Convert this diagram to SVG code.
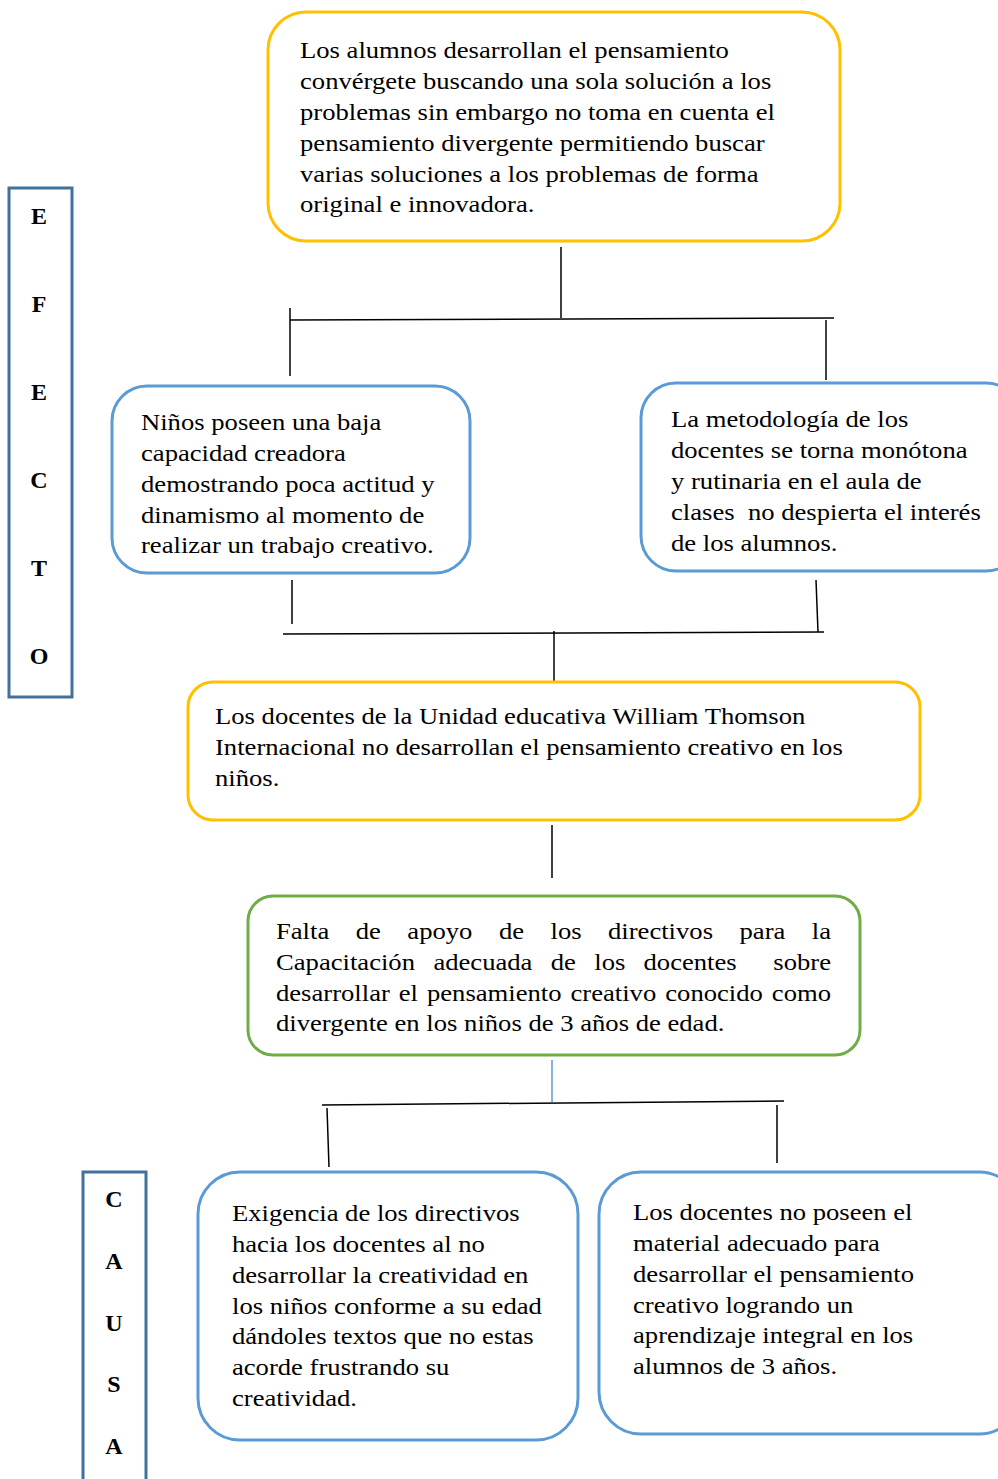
<svg xmlns="http://www.w3.org/2000/svg" width="998" height="1479" viewBox="0 0 998 1479">
<style>
.t{font-family:"Liberation Serif","Times New Roman",serif;font-size:24px;fill:#000}
.l{font-family:"Liberation Serif","Times New Roman",serif;font-size:24px;font-weight:bold;fill:#000;text-anchor:middle}
.y{fill:#fff;stroke:#FFC000;stroke-width:3}
.b{fill:#fff;stroke:#5B9BD5;stroke-width:3}
.g{fill:#fff;stroke:#70AD47;stroke-width:3}
.s{fill:#fff;stroke:#41719C;stroke-width:3}
.c{stroke:#000;stroke-width:1.5;fill:none}
</style>
<rect width="998" height="1479" fill="#fff"/>
<g id="efecto">
<rect class="s" x="9" y="188" width="63" height="509"/>
<text class="l" x="39" y="224">E</text>
<text class="l" x="39" y="312">F</text>
<text class="l" x="39" y="400">E</text>
<text class="l" x="39" y="488">C</text>
<text class="l" x="39" y="576">T</text>
<text class="l" x="39" y="664">O</text>
</g>
<g id="causa">
<rect class="s" x="83" y="1172" width="63" height="320"/>
<text class="l" x="114" y="1207">C</text>
<text class="l" x="114" y="1269">A</text>
<text class="l" x="114" y="1331">U</text>
<text class="l" x="114" y="1392">S</text>
<text class="l" x="114" y="1454">A</text>
</g>
<g id="connectors">
<line class="c" x1="561" y1="247" x2="561" y2="318"/>
<line class="c" x1="290" y1="320" x2="834" y2="318"/>
<line class="c" x1="290" y1="308" x2="290" y2="376"/>
<line class="c" x1="826" y1="320" x2="826" y2="380"/>
<line class="c" x1="292" y1="580" x2="292" y2="624"/>
<line class="c" x1="816" y1="580" x2="818" y2="632"/>
<line class="c" x1="283" y1="634" x2="824" y2="632"/>
<line class="c" x1="554" y1="631" x2="554" y2="682"/>
<line class="c" x1="552" y1="825" x2="552" y2="878"/>
<line x1="552" y1="1060" x2="552" y2="1102" stroke="#5B9BD5" stroke-width="1.5"/>
<line class="c" x1="322" y1="1105" x2="784" y2="1101"/>
<line class="c" x1="327" y1="1108" x2="329" y2="1167"/>
<line class="c" x1="777" y1="1105" x2="777" y2="1163"/>
</g>
<g id="n1">
<rect class="y" x="268" y="12" width="572" height="229" rx="38"/>
<g transform="matrix(1.11 0 0 1 -33 0)">
<text class="t" x="300" y="58">Los alumnos desarrollan el pensamiento</text>
<text class="t" x="300" y="89">convérgete buscando una sola solución a los</text>
<text class="t" x="300" y="120">problemas sin embargo no toma en cuenta el</text>
<text class="t" x="300" y="151">pensamiento divergente permitiendo buscar</text>
<text class="t" x="300" y="182">varias soluciones a los problemas de forma</text>
<text class="t" x="300" y="212">original e innovadora.</text>
</g>
</g>
<g id="n2">
<rect class="b" x="112" y="386" width="358" height="187" rx="35"/>
<g transform="matrix(1.11 0 0 1 -15.51 0)">
<text class="t" x="141" y="430">Niños poseen una baja</text>
<text class="t" x="141" y="461">capacidad creadora</text>
<text class="t" x="141" y="492">demostrando poca actitud y</text>
<text class="t" x="141" y="523">dinamismo al momento de</text>
<text class="t" x="141" y="553">realizar un trabajo creativo.</text>
</g>
</g>
<g id="n3">
<rect class="b" x="641" y="383" width="380" height="188" rx="35"/>
<g transform="matrix(1.11 0 0 1 -73.81 0)">
<text class="t" x="671" y="427">La metodología de los</text>
<text class="t" x="671" y="458">docentes se torna monótona</text>
<text class="t" x="671" y="489">y rutinaria en el aula de</text>
<text class="t" x="671" y="520" xml:space="preserve">clases  no despierta el interés</text>
<text class="t" x="671" y="551">de los alumnos.</text>
</g>
</g>
<g id="n4">
<rect class="y" x="188" y="682" width="732" height="138" rx="25"/>
<g transform="matrix(1.11 0 0 1 -23.65 0)">
<text class="t" x="215" y="724">Los docentes de la Unidad educativa William Thomson</text>
<text class="t" x="215" y="755">Internacional no desarrollan el pensamiento creativo en los</text>
<text class="t" x="215" y="786">niños.</text>
</g>
</g>
<g id="n5">
<rect class="g" x="248" y="896" width="612" height="159" rx="25"/>
<g transform="matrix(1.11 0 0 1 -30.36 0)">
<text class="t" y="939"><tspan x="276">Falta</tspan><tspan x="347.8">de</tspan><tspan x="394.3">apoyo</tspan><tspan x="476.8">de</tspan><tspan x="523.3">los</tspan><tspan x="575.1">directivos</tspan><tspan x="693.6">para</tspan><tspan x="758.7">la</tspan></text>
<text class="t" y="970"><tspan x="276">Capacitación</tspan><tspan x="417.8">adecuada</tspan><tspan x="523.5">de</tspan><tspan x="562.7">los</tspan><tspan x="607.1">docentes</tspan><tspan x="724.0">sobre</tspan></text>
<text class="t" y="1001"><tspan x="276">desarrollar</tspan><tspan x="386.6">el</tspan><tspan x="412.0">pensamiento</tspan><tspan x="541.3">creativo</tspan><tspan x="626.7">conocido</tspan><tspan x="722.7">como</tspan></text>
<text class="t" x="276" y="1031">divergente en los niños de 3 años de edad.</text>
</g>
</g>
<g id="n6">
<rect class="b" x="198" y="1172" width="380" height="268" rx="42"/>
<g transform="matrix(1.11 0 0 1 -25.52 0)">
<text class="t" x="232" y="1221">Exigencia de los directivos</text>
<text class="t" x="232" y="1252">hacia los docentes al no</text>
<text class="t" x="232" y="1283">desarrollar la creatividad en</text>
<text class="t" x="232" y="1314">los niños conforme a su edad</text>
<text class="t" x="232" y="1344">dándoles textos que no estas</text>
<text class="t" x="232" y="1375">acorde frustrando su</text>
<text class="t" x="232" y="1406">creatividad.</text>
</g>
</g>
<g id="n7">
<rect class="b" x="599" y="1172" width="422" height="262" rx="42"/>
<g transform="matrix(1.11 0 0 1 -69.63 0)">
<text class="t" x="633" y="1220">Los docentes no poseen el</text>
<text class="t" x="633" y="1251">material adecuado para</text>
<text class="t" x="633" y="1282">desarrollar el pensamiento</text>
<text class="t" x="633" y="1313">creativo logrando un</text>
<text class="t" x="633" y="1343">aprendizaje integral en los</text>
<text class="t" x="633" y="1374">alumnos de 3 años.</text>
</g>
</g>
</svg>
